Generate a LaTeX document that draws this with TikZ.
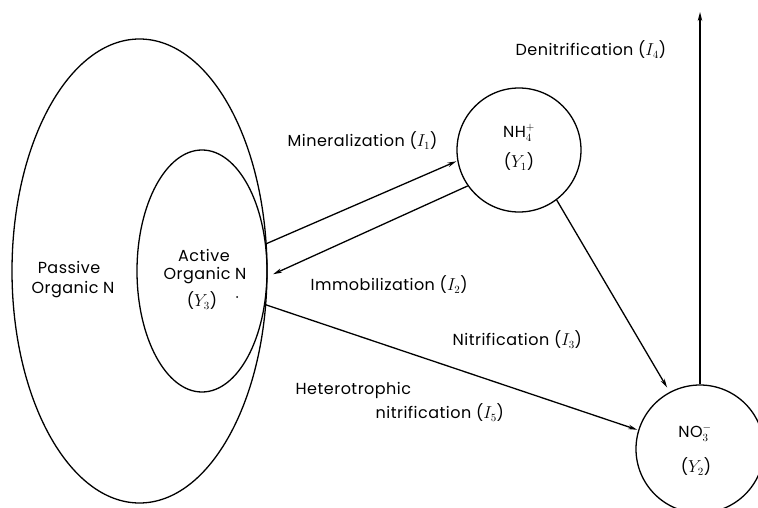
\documentclass[tikz,border=0pt]{standalone}
\usepackage{fontspec}
\setmainfont[LetterSpace=3]{Poppins}
\usetikzlibrary{shapes.geometric,arrows.meta}
\begin{document}
\begin{tikzpicture}[x=1pt,y=-1pt, line width=1.3pt,
  lbl/.style={font=\fontsize{16}{18}\selectfont, inner sep=0pt},
  arr/.style={-{Stealth[length=9pt,width=4.5pt]}},
  pool/.style={draw, ellipse, inner sep=0pt},
  ion/.style={draw, circle, inner sep=0pt, minimum size=124pt}]
\useasboundingbox (0,0) rectangle (758,508);
% pools
\node[pool, minimum width=255pt, minimum height=464pt] (passive) at (139.5,271) {};
\node[pool, minimum width=130pt, minimum height=242pt] (active) at (202,271) {};
\node[ion] (nh4) at (519,150) {};
\node[ion, minimum size=128pt] (no3) at (700,449) {};
\coordinate (sky) at (700,12);
% connectors
\draw[arr, shorten >=1pt] (active.23) -- (nh4.190);
\draw[arr, shorten >=6pt] (nh4.215) -- (active.-5);
\draw[arr, shorten >=1pt] (active.-28) -- (no3.163);
\draw[arr, shorten >=5pt] (nh4.-53) -- (no3.118);
\draw[arr] (no3.north) -- (sky);
% pool labels
\node[lbl] (pas1) at (69,267) {Passive};
\node[lbl] (pas2) at (73,290) {Organic N};
\node[lbl] (act1) at (204,255) {Active};
\node[lbl] (act2) at (205,276) {Organic N};
\node[lbl] (act3) at (202,301) {($Y_3$)};
\fill (237,297) circle (1pt);
\node[lbl] (nh4a) at (519,133) {NH$_4^+$};
\node[lbl] (nh4b) at (519,162) {($Y_1$)};
\node[lbl] (no3a) at (695,433) {NO$_3^-$};
\node[lbl] (no3b) at (696,467) {($Y_2$)};
% flux labels
\node[lbl, anchor=west] (lmin) at (287,141) {Mineralization ($I_1$)};
\node[lbl, anchor=west] (limm) at (310,285) {Immobilization ($I_2$)};
\node[lbl, anchor=west] (lnit) at (452,340) {Nitrification ($I_3$)};
\node[lbl, anchor=west] (lhet1) at (295,390) {Heterotrophic};
\node[lbl, anchor=west] (lhet2) at (375,413) {nitrification ($I_5$)};
\node[lbl, anchor=west] (lden) at (515,50) {Denitrification ($I_4$)};
\end{tikzpicture}
\end{document}
